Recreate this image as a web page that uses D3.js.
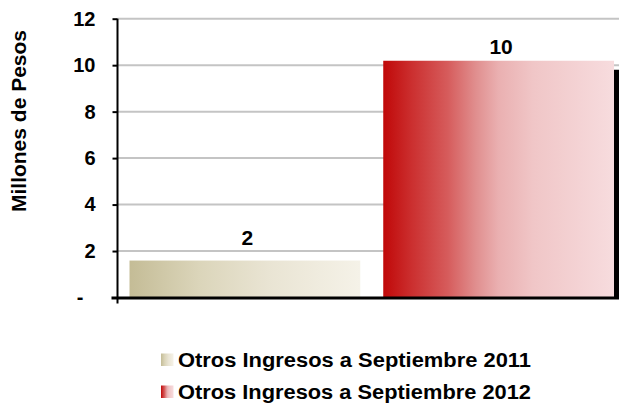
<!DOCTYPE html>
<html>
<head>
<meta charset="utf-8">
<script src="https://cdn.jsdelivr.net/npm/d3@7"></script>
<style>
  html, body { margin: 0; padding: 0; background: #fff; }
  svg { display: block; font-family: "Liberation Sans", Arial, sans-serif; font-weight: bold; }
</style>
</head>
<body>
<svg id="chart" width="619" height="404"></svg>
<script>
// ---- data ----
const categories = ["Otros Ingresos a Septiembre 2011", "Otros Ingresos a Septiembre 2012"];
const values = [1.59, 10.19];
const valueLabels = ["2", "10"];
const tickValues = [0, 2, 4, 6, 8, 10, 12];
const tickLabels = ["-", "2", "4", "6", "8", "10", "12"];
const yTitle = "Millones de Pesos";

// ---- layout ----
const svg = d3.select("#chart");
const plotLeft = 117.5, plotRight = 619, plotTop = 18.7, plotBottom = 297.5;

const x = d3.scaleBand().domain(categories).range([plotLeft, plotRight])
  .paddingInner(0.0906).paddingOuter(0.0335).align(0.706);
const y = d3.scaleLinear().domain([0, 12]).range([plotBottom, plotTop]);

const defs = svg.append("defs");
const gradStops = [
  [[0, "#c4bc96"], [0.3, "#dbd5ba"], [0.6, "#e9e4d3"], [1, "#f5f2e8"]],
  [[0, "#c00808"], [0.12, "#cb2e2e"], [0.28, "#d65c5c"], [0.4, "#e08e8e"], [0.5, "#eab0b1"], [0.65, "#f0c6c7"], [1, "#f7dcde"]]
];
gradStops.forEach((stops, i) => {
  const g = defs.append("linearGradient").attr("id", "g" + i)
    .attr("x1", "0").attr("x2", "1").attr("y1", "0").attr("y2", "0");
  stops.forEach(s => g.append("stop").attr("offset", s[0]).attr("stop-color", s[1]));
});

// gridlines
svg.append("g").selectAll("line").data(tickValues.filter(v => v > 0)).join("line")
  .attr("x1", plotLeft).attr("x2", plotRight)
  .attr("y1", d => y(d)).attr("y2", d => y(d))
  .attr("stroke", "#c4c4c4").attr("stroke-width", 2);

// shadow for the second bar
svg.append("g").selectAll("rect").data(values.slice(1)).join("rect")
  .attr("x", x(categories[1]) + 5)
  .attr("y", d => y(d) + 9)
  .attr("width", x.bandwidth())
  .attr("height", d => plotBottom - y(d) - 9)
  .attr("fill", "#000");

// bars
svg.append("g").selectAll("rect").data(values).join("rect")
  .attr("x", (d, i) => x(categories[i]))
  .attr("y", d => y(d))
  .attr("width", x.bandwidth())
  .attr("height", d => plotBottom - y(d))
  .attr("fill", (d, i) => "url(#g" + i + ")");

// value labels
const labelGap = [16, 7];
svg.append("g").selectAll("text").data(values).join("text")
  .attr("x", (d, i) => x(categories[i]) + x.bandwidth() / 2 + 2.5)
  .attr("y", (d, i) => y(d) - labelGap[i])
  .attr("text-anchor", "middle")
  .attr("font-size", 21)
  .attr("fill", "#000")
  .text((d, i) => valueLabels[i]);

// y axis
const yAxis = d3.axisLeft(y).tickValues(tickValues)
  .tickFormat((d, i) => tickLabels[i]).tickSize(5).tickPadding(17);
const gy = svg.append("g").attr("transform", `translate(${plotLeft},0)`).call(yAxis);
gy.select(".domain").attr("stroke", "#000").attr("stroke-width", 2)
  .attr("d", `M0,${plotTop}V${plotBottom + 6}`);
gy.selectAll(".tick line").attr("stroke", "#000").attr("stroke-width", 2);
gy.selectAll(".tick text")
  .attr("font-size", 20).attr("font-family", "Liberation Sans, Arial, sans-serif")
  .attr("font-weight", "bold").attr("fill", "#000")
  .attr("dx", d => d === 0 ? -12 : 0);

// x axis line
const xAxis = d3.axisBottom(x).tickSize(0).tickFormat("");
const gx = svg.append("g").attr("transform", `translate(0,${plotBottom + 0.5})`).call(xAxis);
gx.select(".domain").attr("stroke", "#000").attr("stroke-width", 3)
  .attr("d", `M${plotLeft - 6},0H${plotRight}`);

// y title
svg.append("text")
  .attr("transform", "translate(18.7,121) rotate(-90)")
  .attr("text-anchor", "middle").attr("dominant-baseline", "central")
  .attr("font-size", 21).attr("fill", "#000")
  .text(yTitle);

// legend
const legend = svg.append("g").selectAll("g").data(categories).join("g")
  .attr("transform", (d, i) => `translate(161,${353.5 + i * 32})`);
legend.append("rect").attr("width", 12.5).attr("height", 12.5)
  .attr("fill", (d, i) => "url(#g" + i + ")");
legend.append("text").attr("x", 17).attr("y", 13.3)
  .attr("font-size", 20).attr("fill", "#000")
  .attr("textLength", 353).attr("lengthAdjust", "spacingAndGlyphs")
  .text(d => d);
</script>
</body>
</html>
